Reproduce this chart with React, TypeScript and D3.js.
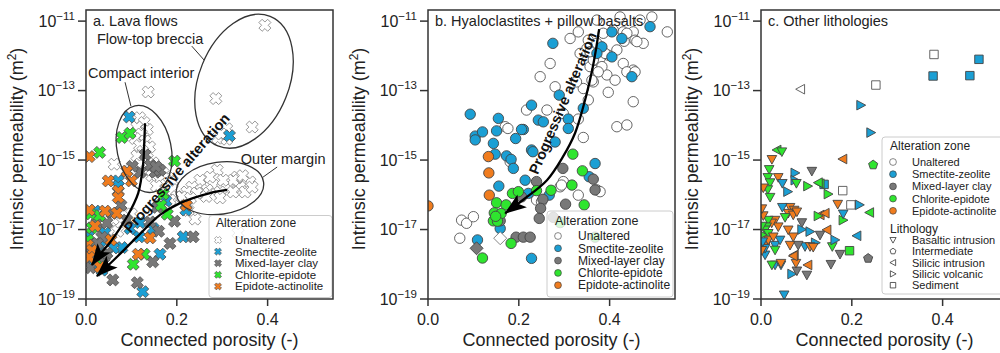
import React from 'react';
import * as d3 from 'd3';

type P = [number, number];

// ---------- axes ----------
const xTicks = [0, 0.2, 0.4];
const xTickLabels = ['0.0', '0.2', '0.4'];
const yTicks = [-19, -17, -15, -13, -11]; // log10 permeability
const xDomain: P = [0, 0.544];
const yDomain: P = [-19, -10.68];

const zoneNames = ['Unaltered', 'Smectite-zeolite', 'Mixed-layer clay', 'Chlorite-epidote', 'Epidote-actinolite'];
const zoneCodes = ['U', 'S', 'M', 'C', 'E'];
const zoneColors = ['#ffffff', '#1b9fd4', '#787878', '#2fe52f', '#f07c1e'];
const lithNames = ['Basaltic intrusion', 'Intermediate', 'Silicic intrusion', 'Silicic volcanic', 'Sediment'];
const lithCodes = ['B', 'I', 'SI', 'SV', 'SD'];
const panelTitles = ['a. Lava flows', 'b. Hyaloclastites + pillow basalts', 'c. Other lithologies'];

// ---------- panel a: lava flows (porosity, log10 k) ----------
const lavaUnaltered: P[] = [
  [0.394, -11.12], [0.286, -13.23], [0.366, -14.05], [0.31, -14.1], [0.29, -14.37], [0.31, -14.4], [0.298, -14.25],
  [0.137, -13.04],
  [0.118, -13.78], [0.128, -13.92], [0.112, -14.05], [0.135, -14.12], [0.122, -14.25], [0.108, -14.38], [0.13, -14.45],
  [0.118, -14.58], [0.14, -14.62], [0.125, -14.75], [0.112, -14.88], [0.135, -14.95], [0.148, -15.08], [0.118, -15.12],
  [0.1, -15.25], [0.132, -15.3], [0.158, -15.25], [0.145, -15.45], [0.17, -15.38], [0.162, -15.58], [0.18, -15.5],
  [0.175, -15.72], [0.19, -15.6], [0.155, -15.75], [0.062, -15.12],
  [0.19, -15.85], [0.2, -16.05], [0.185, -16.15],
  [0.289, -15.29], [0.333, -15.49], [0.361, -15.63], [0.251, -15.58], [0.28, -15.72], [0.317, -15.63], [0.339, -15.78],
  [0.311, -15.81], [0.295, -15.92], [0.267, -15.86], [0.233, -15.78], [0.222, -15.92], [0.211, -16.06], [0.258, -15.95],
  [0.324, -15.58], [0.35, -15.92], [0.366, -15.78], [0.273, -15.49], [0.244, -15.95], [0.302, -15.58], [0.324, -15.92],
  [0.295, -16.09], [0.265, -16.05], [0.345, -15.45], [0.23, -16.1],
  [0.24, -16.7], [0.225, -16.45], [0.06, -16.7], [0.07, -17.05], [0.05, -17.5], [0.015, -17.9], [0.1, -16.55], [0.335, -17.1],
];
const lavaSmectite: P[] = [
  [0.095, -13.76], [0.071, -15.6], [0.071, -15.75], [0.176, -16.18], [0.22, -16.44], [0.214, -17.21], [0.163, -17.71],
  [0.125, -18.79], [0.079, -17.52], [0.117, -17.21], [0.148, -16.97], [0.119, -16.8], [0.097, -16.97], [0.02, -16.47],
  [0.015, -17.96], [0.316, -14.3], [0.031, -17.5], [0.06, -17.53], [0.042, -17.1], [0.035, -18.17], [0.005, -17.2],
];
const lavaMixed: P[] = [
  [0.13, -14.85], [0.142, -15.15], [0.152, -15.35], [0.163, -15.29], [0.154, -15.19], [0.12, -15.35], [0.102, -15.18],
  [0.157, -16.36], [0.195, -16.76], [0.236, -17.21], [0.185, -17.4], [0.147, -17.93], [0.113, -18.53], [0.059, -18.45],
  [0.141, -16.78], [0.077, -16.3], [0.057, -16.53], [0.024, -16.81], [0.046, -16.81], [0.09, -16.73], [0.02, -17.82],
  [0.046, -17.68], [0.035, -17.22], [0.01, -18.1], [0.04, -17.95], [0.025, -17.4], [0.16, -17.05], [0.005, -17.6],
];
const lavaChlorite: P[] = [
  [0.03, -14.78], [0.079, -14.35], [0.097, -14.23], [0.195, -15.03], [0.17, -15.98], [0.179, -16.56], [0.128, -17.71],
  [0.104, -18.0], [0.013, -16.95], [0.004, -17.3], [0.01, -16.55], [0.035, -18.05], [0.165, -16.3], [0.03, -16.6],
];
const lavaEpidote: P[] = [
  [0.007, -14.9], [0.049, -15.6], [0.1, -15.6], [0.09, -15.32], [0.071, -15.89], [0.071, -16.08], [0.221, -16.3],
  [0.115, -17.71], [0.141, -17.24], [0.042, -16.47], [0.007, -16.44], [0.068, -16.53], [0.004, -17.45], [0.013, -17.6],
  [0.007, -17.8], [0.031, -18.08], [0.02, -16.9], [0.055, -17.3],
];

// ---------- panel b: hyaloclastites + pillow basalts ----------
const hyaloUnaltered: P[] = [
  [0.331, -11.31], [0.353, -11.55], [0.372, -11.64], [0.35, -11.79], [0.386, -11.35], [0.408, -11.26], [0.43, -11.31],
  [0.452, -11.31], [0.456, -11.55], [0.474, -11.64], [0.432, -11.58], [0.416, -11.83], [0.397, -11.98], [0.379, -12.07],
  [0.357, -12.31], [0.372, -12.41], [0.394, -12.55], [0.412, -12.7], [0.43, -12.22], [0.452, -12.41], [0.364, -12.75],
  [0.342, -12.94], [0.327, -12.75], [0.397, -13.05], [0.353, -13.27], [0.331, -13.82], [0.342, -14.35], [0.452, -13.32],
  [0.416, -14.04], [0.438, -13.99], [0.269, -12.22], [0.247, -12.6], [0.28, -12.89], [0.493, -10.88], [0.527, -11.31],
  [0.372, -10.97], [0.423, -10.88], [0.467, -10.97], [0.313, -11.5], [0.364, -11.98], [0.298, -13.66], [0.262, -13.56],
  [0.17, -14.04], [0.176, -14.09], [0.181, -15.05], [0.298, -15.62], [0.291, -15.77], [0.331, -16.01], [0.372, -15.86],
  [0.379, -15.91], [0.239, -16.15], [0.074, -16.73], [0.085, -16.82], [0.1, -16.63], [0.07, -17.25], [0.335, -11.93],
  [0.364, -12.12], [0.383, -12.31], [0.375, -12.46], [0.438, -11.35], [0.46, -11.59], [0.438, -12.46], [0.456, -12.46],
  [0.361, -12.7], [0.357, -11.88], [0.39, -11.93], [0.294, -15.72], [0.217, -13.56], [0.25, -16.2],
];
const hyaloSmectite: P[] = [
  [0.093, -13.68], [0.155, -13.8], [0.104, -14.31], [0.104, -14.42], [0.12, -14.19], [0.151, -14.16], [0.21, -14.12],
  [0.193, -14.38], [0.228, -13.42], [0.243, -13.85], [0.254, -13.9], [0.144, -14.52], [0.148, -14.83], [0.173, -14.88],
  [0.183, -14.98], [0.228, -14.71], [0.214, -15.58], [0.156, -15.75], [0.188, -15.24], [0.221, -15.96], [0.159, -16.97],
  [0.109, -17.3], [0.228, -17.83], [0.275, -11.64], [0.489, -11.16], [0.405, -11.31], [0.427, -11.5], [0.383, -11.74],
  [0.405, -12.03], [0.449, -12.6], [0.289, -13.13], [0.342, -13.51], [0.309, -13.82], [0.309, -14.09], [0.28, -14.48],
  [0.231, -14.76], [0.368, -15.1], [0.355, -15.48], [0.267, -16.01], [0.372, -11.93], [0.206, -14.12],
];
const hyaloMixed: P[] = [
  [0.297, -15.24], [0.364, -15.55], [0.368, -15.86], [0.239, -15.62], [0.253, -16.13], [0.248, -16.39], [0.245, -16.68],
  [0.303, -16.27], [0.276, -16.65], [0.194, -17.22], [0.21, -17.22], [0.225, -17.22], [0.159, -16.75], [0.206, -16.06],
];
const hyaloChlorite: P[] = [
  [0.186, -15.96], [0.199, -15.91], [0.151, -16.23], [0.172, -16.29], [0.146, -16.52], [0.161, -16.54], [0.144, -16.75],
  [0.153, -16.76], [0.183, -17.4], [0.12, -17.82], [0.239, -15.88], [0.271, -15.87], [0.319, -14.83], [0.34, -15.31],
  [0.317, -15.72], [0.344, -16.29], [0.291, -16.8], [0.368, -17.22], [0.149, -16.62],
];
const hyaloEpidote: P[] = [[0.133, -14.9], [0.134, -15.37], [0.135, -16.01], [0.0, -16.32]];
// diamond-shaped samples: [porosity, log k, zone index]
const hyaloDiamonds: [number, number, number][] = [[0.159, -17.25, 0], [0.107, -17.54, 2]];

// ---------- panel c: other lithologies [porosity, log k, zone, lithology] ----------
const otherRows: [number, number, string, string][] = [
  [0.381, -11.96, 'U', 'SD'], [0.48, -12.1, 'S', 'SD'], [0.379, -12.58, 'S', 'SD'], [0.46, -12.57, 'S', 'SD'],
  [0.253, -12.84, 'U', 'SD'], [0.087, -12.96, 'U', 'SI'], [0.22, -13.42, 'S', 'SV'], [0.242, -14.21, 'S', 'SV'],
  [0.247, -15.14, 'C', 'I'], [0.236, -17.83, 'M', 'I'], [0.18, -14.97, 'E', 'SI'], [0.18, -15.88, 'U', 'SD'],
  [0.198, -16.29, 'U', 'SD'], [0.217, -16.29, 'S', 'SV'], [0.239, -16.51, 'C', 'SI'], [0.195, -17.61, 'C', 'SD'],
  [0.051, -18.88, 'S', 'B'], [0.211, -17.18, 'S', 'SI'], [0.139, -15.7, 'S', 'SD'], [0.13, -15.68, 'C', 'SI'],
  [0.112, -15.32, 'M', 'B'],
  [0.035, -14.71, 'C', 'SI'], [0.046, -14.76, 'C', 'B'], [0.024, -14.98, 'E', 'B'], [0.018, -15.27, 'C', 'B'],
  [0.038, -15.5, 'E', 'B'], [0.015, -15.5, 'C', 'B'], [0.02, -15.65, 'C', 'B'], [0.015, -15.85, 'C', 'B'],
  [0.02, -16.07, 'C', 'B'], [0.005, -15.8, 'E', 'B'], [0.075, -15.37, 'S', 'SV'], [0.075, -15.58, 'S', 'SV'],
  [0.047, -15.67, 'S', 'B'], [0.059, -15.91, 'S', 'SV'], [0.078, -15.67, 'C', 'B'], [0.103, -15.75, 'C', 'SV'],
  [0.126, -15.65, 'C', 'SI'], [0.148, -15.98, 'C', 'SV'], [0.169, -16.27, 'E', 'B'], [0.103, -18.02, 'E', 'SI'],
  [0.101, -18.31, 'M', 'B'], [0.068, -18.28, 'S', 'SV'], [0.079, -18.19, 'M', 'B'], [0.077, -17.97, 'E', 'B'],
  [0.031, -18.02, 'S', 'B'], [0.044, -18.02, 'S', 'B'], [0.024, -18.02, 'C', 'B'], [0.13, -16.58, 'E', 'SI'],
  [0.126, -16.61, 'C', 'SV'], [0.181, -16.73, 'C', 'SV'], [0.181, -16.55, 'S', 'B'], [0.174, -17.71, 'M', 'B'],
  [0.154, -18.0, 'M', 'B'], [0.157, -17.49, 'C', 'B'], [0.163, -17.3, 'S', 'SV'], [0.145, -17.01, 'E', 'SI'],
  [0.141, -16.53, 'E', 'SI'],
  [0.064, -16.36, 'E', 'B'], [0.073, -16.44, 'E', 'B'], [0.06, -16.53, 'E', 'B'], [0.071, -16.58, 'E', 'B'],
  [0.079, -16.49, 'E', 'B'], [0.047, -16.36, 'S', 'B'], [0.053, -16.65, 'C', 'B'], [0.031, -16.73, 'E', 'B'],
  [0.038, -16.92, 'E', 'B'], [0.0235, -16.81, 'E', 'B'], [0.016, -16.73, 'C', 'B'], [0.0125, -16.92, 'C', 'B'],
  [0.009, -17.01, 'C', 'B'], [0.016, -17.11, 'C', 'B'], [0.09, -16.8, 'M', 'B'], [0.09, -17.0, 'S', 'SV'],
  [0.108, -17.06, 'S', 'SV'], [0.13, -17.16, 'M', 'B'], [0.12, -17.38, 'S', 'SV'], [0.097, -17.49, 'S', 'B'],
  [0.082, -17.45, 'M', 'B'], [0.064, -17.45, 'E', 'B'], [0.071, -17.21, 'E', 'B'], [0.06, -17.01, 'E', 'B'],
  [0.031, -17.45, 'S', 'B'], [0.042, -17.3, 'S', 'B'], [0.009, -17.49, 'E', 'B'], [0.016, -17.3, 'E', 'B'],
  [0.027, -17.21, 'E', 'B'], [0.073, -17.73, 'E', 'SI'], [0.071, -17.76, 'E', 'SI'], [0.044, -17.97, 'E', 'B'],
  [0.031, -17.59, 'C', 'B'], [0.009, -17.73, 'S', 'B'], [0.009, -17.54, 'S', 'B'], [0.108, -17.49, 'E', 'B'],
  [0.115, -17.51, 'E', 'B'],
  [0.002, -16.9, 'C', 'B'], [0.003, -17.15, 'C', 'SV'], [0.004, -17.35, 'S', 'B'], [0.002, -17.6, 'E', 'B'],
  [0.005, -16.6, 'E', 'B'], [0.002, -16.4, 'E', 'B'],
];

// ---------- annotations (data coordinates) ----------
const lavaArrowInterior: P[] = [[0.13, -13.94], [0.128, -14.6], [0.126, -15.09], [0.115, -15.95], [0.09, -16.64], [0.057, -17.3], [0.026, -17.79], [0.013, -18.02]];
const lavaArrowMargin: P[] = [[0.311, -15.86], [0.273, -15.95], [0.207, -16.24], [0.163, -16.58], [0.112, -17.22], [0.068, -17.79], [0.024, -18.34]];
const hyaloArrow: P[] = [[0.377, -11.23], [0.363, -12.32], [0.346, -13.27], [0.324, -14.22], [0.297, -14.91], [0.262, -15.58], [0.209, -16.15], [0.17, -16.53]];
// ellipses: centre (porosity, log k), semi-axes (porosity units, decades), rotation (deg)
const lavaEllipses = [
  { name: 'Compact interior', cx: 0.128, cy: -14.68, rx: 0.0595, ry: 1.27, rot: -12 },
  { name: 'Flow-top breccia', cx: 0.348, cy: -12.73, rx: 0.099, ry: 2.01, rot: 22 },
  { name: 'Outer margin', cx: 0.295, cy: -15.81, rx: 0.097, ry: 0.75, rot: -8 },
];
const lavaLabels = [
  { text: 'Flow-top breccia', x: 0.024, y: -11.66, lead: [[0.233, -11.72], [0.26, -12.12]] as P[] },
  { text: 'Compact interior', x: 0.0044, y: -12.64, lead: [[0.086, -12.76], [0.099, -13.45]] as P[] },
  { text: 'Outer margin', x: 0.341, y: -15.11, lead: [[0.421, -15.2], [0.39, -15.49]] as P[] },
];
const lavaArrowText = { x: 0.2, y: -15.37, angle: -49 };
const hyaloArrowText = { x: 0.297, y: -13.36, angle: -67 };

// ---------- layout ----------
const FONT = '"Liberation Sans", Arial, Helvetica, sans-serif';
const TXT = '#222';
const FRAME = '#333';
const PANEL_LEFTS = [86, 428, 761];
const PW = 247;
const PT = 10;
const PB = 299;
const EDGE = '#444';

function scales(left: number) {
  const x = d3.scaleLinear().domain(xDomain).range([left, left + PW]);
  const y = d3.scaleLinear().domain(yDomain).range([PB, PT]);
  return { x, y };
}

function xPath(s: number, w: number) {
  const pts = [[-w, -s], [w, -s], [w, -w], [s, -w], [s, w], [w, w], [w, s], [-w, s], [-w, w], [-s, w], [-s, -w], [-w, -w]];
  const c = Math.SQRT1_2;
  return 'M' + pts.map(([a, b]) => `${(a * c - b * c).toFixed(2)},${(a * c + b * c).toFixed(2)}`).join('L') + 'Z';
}
function shapePath(lith: string, s: number) {
  switch (lith) {
    case 'B': return `M${-s},${-s * 0.8}L${s},${-s * 0.8}L0,${s * 1.0}Z`;
    case 'SI': return `M${-s},0L${s * 0.85},${-s}L${s * 0.85},${s}Z`;
    case 'SV': return `M${s},0L${-s * 0.85},${-s}L${-s * 0.85},${s}Z`;
    case 'SD': { const h = s * 0.88; return `M${-h},${-h}L${h},${-h}L${h},${h}L${-h},${h}Z`; }
    case 'I': {
      const r = s * 1.0;
      const pts = d3.range(5).map(i => { const a = -Math.PI / 2 + i * 2 * Math.PI / 5; return [r * Math.cos(a), r * Math.sin(a)]; });
      return 'M' + pts.map(p => p.map(v => v.toFixed(2)).join(',')).join('L') + 'Z';
    }
    default: return '';
  }
}

function Axes({ idx }: { idx: number }) {
  const left = PANEL_LEFTS[idx];
  const { x, y } = scales(left);
  return (
    <g fill={TXT} fontFamily={FONT}>
      <rect x={left} y={PT} width={PW} height={PB - PT} fill="none" stroke={FRAME} strokeWidth={1.5} />
      {yTicks.map(t => (
        <g key={t}>
          <line x1={left - 8} x2={left} y1={y(t)} y2={y(t)} stroke={FRAME} strokeWidth={1.5} />
          <text x={left - 11} y={y(t) + 5.5} textAnchor="end" fontSize={16}>
            10<tspan dy={-7} fontSize={11.5}>{'\u2212' + (-t)}</tspan>
          </text>
        </g>
      ))}
      {xTicks.map((t, i) => (
        <g key={t}>
          <line x1={x(t)} x2={x(t)} y1={PB} y2={PB + 7} stroke={FRAME} strokeWidth={1.5} />
          <text x={x(t)} y={325} textAnchor="middle" fontSize={16}>{xTickLabels[i]}</text>
        </g>
      ))}
      <text x={left + PW / 2} y={346} textAnchor="middle" fontSize={18}>Connected porosity (-)</text>
      <text transform={`translate(${left - 63},${149}) rotate(-90)`} textAnchor="middle" fontSize={18}>
        Intrinsic permeability (m<tspan dy={-7} fontSize={12}>2</tspan><tspan dy={7}>)</tspan>
      </text>
      <text x={left + 7} y={25.5} fontSize={14.5}>{panelTitles[idx]}</text>
    </g>
  );
}

function LegendBox({ x, y, w, h }: { x: number; y: number; w: number; h: number }) {
  return <rect x={x} y={y} width={w} height={h} rx={3} fill="#fff" fillOpacity={0.8} stroke="#cccccc" strokeWidth={1} />;
}

export default function App() {
  const sa = scales(PANEL_LEFTS[0]);
  const sb = scales(PANEL_LEFTS[1]);
  const sc = scales(PANEL_LEFTS[2]);
  const xm = xPath(6.2, 2.3);
  const xmSmall = xPath(3.6, 1.35);
  const lavaSets = [lavaUnaltered, lavaSmectite, lavaMixed, lavaChlorite, lavaEpidote];
  const hyaloSets = [hyaloUnaltered, hyaloSmectite, hyaloMixed, hyaloChlorite, hyaloEpidote];
  const curve = (s: { x: any; y: any }) => d3.line<P>().x(d => s.x(d[0])).y(d => s.y(d[1])).curve(d3.curveCatmullRom.alpha(0.5));

  return (
    <svg width={1000} height={353} style={{ position: 'fixed', left: 0, top: 0, background: '#fff' }} fontFamily={FONT}>
      <defs>
        {PANEL_LEFTS.map((l, i) => (
          <clipPath id={`clip${i}`} key={i}><rect x={l} y={PT} width={PW} height={PB - PT} /></clipPath>
        ))}
        <marker id="ahead" viewBox="0 0 22 16" refX={21} refY={8} markerWidth={22} markerHeight={16} markerUnits="userSpaceOnUse" orient="auto">
          <path d="M0,0 L22,8 L0,16 L5,8 Z" fill="#000" />
        </marker>
      </defs>
      <rect x={0} y={0} width={1000} height={353} fill="#fff" />

      {/* ---------- panel a ---------- */}
      <g clipPath="url(#clip0)">
        {lavaSets.map((set, zi) => set.map((d, i) => (
          <path key={`a${zi}-${i}`} d={xm} transform={`translate(${sa.x(d[0])},${sa.y(d[1])})`}
            fill={zoneColors[zi]} stroke={zi === 0 ? '#8a8a8a' : '#555'} strokeWidth={0.9} />
        )))}
        {lavaEllipses.map(e => {
          const cx = sa.x(e.cx), cy = sa.y(e.cy);
          const rx = sa.x(e.rx) - sa.x(0), ry = sa.y(-19) - sa.y(-19 + e.ry);
          return <ellipse key={e.name} cx={cx} cy={cy} rx={rx} ry={ry} transform={`rotate(${e.rot},${cx},${cy})`} fill="none" stroke="#333" strokeWidth={1.3} />;
        })}
        {lavaLabels.map(l => (
          <line key={l.text} x1={sa.x(l.lead[0][0])} y1={sa.y(l.lead[0][1])} x2={sa.x(l.lead[1][0])} y2={sa.y(l.lead[1][1])} stroke="#333" strokeWidth={1} />
        ))}
        <path d={curve(sa)(lavaArrowInterior) || ''} fill="none" stroke="#000" strokeWidth={2.3} markerEnd="url(#ahead)" />
        <path d={curve(sa)(lavaArrowMargin) || ''} fill="none" stroke="#000" strokeWidth={2.3} markerEnd="url(#ahead)" />
      </g>
      {lavaLabels.map(l => (
        <text key={l.text} x={sa.x(l.x)} y={sa.y(l.y)} fontSize={14.5} fill={TXT}>{l.text}</text>
      ))}
      <text transform={`translate(${sa.x(lavaArrowText.x)},${sa.y(lavaArrowText.y)}) rotate(${lavaArrowText.angle})`}
        textAnchor="middle" dominantBaseline="central" fontSize={14.5} fontWeight="bold" fill="#111">Progressive alteration</text>
      <g>
        <LegendBox x={209} y={215.5} w={123} h={82} />
        <text x={216} y={227} fontSize={12} fill={TXT}>Alteration zone</text>
        {zoneNames.map((z, i) => (
          <g key={z}>
            <path d={xmSmall} transform={`translate(218,${240 + i * 11.6})`} fill={zoneColors[i]} stroke={i === 0 ? '#8a8a8a' : '#555'} strokeWidth={0.7} />
            <text x={235} y={240 + i * 11.6 + 4} fontSize={11.5} fill={TXT}>{z}</text>
          </g>
        ))}
      </g>

      {/* ---------- panel b ---------- */}
      <g clipPath="url(#clip1)">
        {hyaloSets.map((set, zi) => set.map((d, i) => (
          <circle key={`b${zi}-${i}`} cx={sb.x(d[0])} cy={sb.y(d[1])} r={5.2}
            fill={zoneColors[zi]} stroke={zi === 0 ? '#555' : EDGE} strokeWidth={0.9} />
        )))}
        {hyaloDiamonds.map((d, i) => (
          <path key={`bd${i}`} d="M0,-6.5L6.5,0L0,6.5L-6.5,0Z" transform={`translate(${sb.x(d[0])},${sb.y(d[1])})`}
            fill={zoneColors[d[2]]} stroke={d[2] === 0 ? '#777' : EDGE} strokeWidth={0.9} />
        ))}
        <path d={curve(sb)(hyaloArrow) || ''} fill="none" stroke="#000" strokeWidth={2.3} markerEnd="url(#ahead)" />
      </g>
      <text transform={`translate(${sb.x(hyaloArrowText.x)},${sb.y(hyaloArrowText.y)}) rotate(${hyaloArrowText.angle})`}
        textAnchor="middle" dominantBaseline="central" fontSize={14.5} fontWeight="bold" fill="#111">Progressive alteration</text>
      <g>
        <LegendBox x={547} y={211} w={126} h={86} />
        <text x={555} y={224.5} fontSize={12.5} fill={TXT}>Alteration zone</text>
        {zoneNames.map((z, i) => (
          <g key={z}>
            <circle cx={558} cy={236 + i * 12.3} r={3.4} fill={zoneColors[i]} stroke={i === 0 ? '#555' : EDGE} strokeWidth={0.7} />
            <text x={578} y={236 + i * 12.3 + 4.2} fontSize={12} fill={TXT}>{z}</text>
          </g>
        ))}
      </g>

      {/* ---------- panel c ---------- */}
      <g clipPath="url(#clip2)">
        {otherRows.map((r, i) => {
          const zi = zoneCodes.indexOf(r[2]);
          return (
            <path key={`c${i}`} d={shapePath(r[3], 4.8)} transform={`translate(${sc.x(r[0])},${sc.y(r[1])})`}
              fill={zoneColors[zi]} stroke={zi === 0 ? '#555' : EDGE} strokeWidth={0.9} />
          );
        })}
      </g>
      <g>
        <LegendBox x={882} y={137} w={130} h={157} />
        <text x={890} y={150} fontSize={12} fill={TXT}>Alteration zone</text>
        {zoneNames.map((z, i) => (
          <g key={z}>
            <circle cx={893} cy={162 + i * 12.2} r={3.4} fill={zoneColors[i]} stroke={i === 0 ? '#555' : EDGE} strokeWidth={0.7} />
            <text x={912} y={162 + i * 12.2 + 3.9} fontSize={11} fill={TXT}>{z}</text>
          </g>
        ))}
        <text x={890} y={233} fontSize={12} fill={TXT}>Lithology</text>
        {lithNames.map((l, i) => (
          <g key={l}>
            <path d={shapePath(lithCodes[i], 3.1)} transform={`translate(893,${240 + i * 11.3})`} fill="#fff" stroke="#333" strokeWidth={0.8} />
            <text x={912} y={240 + i * 11.3 + 3.9} fontSize={11} fill={TXT}>{l}</text>
          </g>
        ))}
      </g>

      {PANEL_LEFTS.map((_, i) => <Axes key={i} idx={i} />)}
    </svg>
  );
}
